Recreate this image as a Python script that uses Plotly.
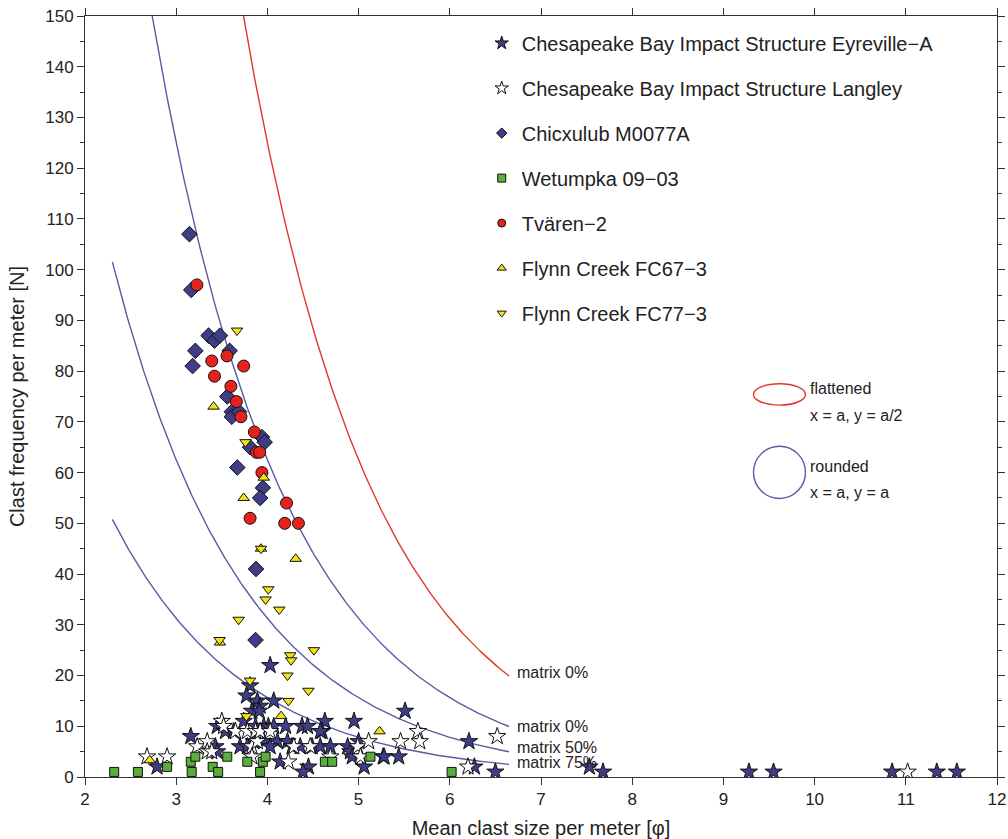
import numpy as np
import plotly.graph_objects as go

# ---------------- data ----------------
eyre_x = [4.03, 3.81, 3.77, 3.89, 4.07, 3.92, 3.83, 3.91, 5.51, 3.16, 4.63, 4.95,
          3.45, 3.74, 3.87, 3.96, 4.01, 4.07, 4.20, 4.38, 4.44, 4.60,
          3.54, 4.58, 3.63,
          3.85, 3.96, 4.11, 4.22, 5.00, 6.21,
          3.43, 3.70, 3.78, 4.03, 4.27, 4.36, 4.49, 4.58, 4.69, 4.88, 4.91,
          3.45, 4.93, 5.27, 5.44, 5.28, 4.14,
          2.79, 4.45, 5.06, 7.53, 6.27,
          4.39, 6.50, 7.68, 9.28, 9.55, 10.85, 11.34, 11.56]
eyre_y = [22, 18, 16, 15, 15, 14, 13, 13, 13, 8, 11, 11,
          10, 11, 10, 10, 10, 10, 10, 10, 10, 9,
          9, 9, 9,
          7, 7, 7, 7, 7, 7,
          6, 6, 6, 6, 6, 6, 6, 6, 6, 6, 5,
          5, 4, 4, 4, 4, 3,
          2, 2, 2, 2, 2,
          1, 1, 1, 1, 1, 1, 1, 1]

lang_x = [2.68, 2.90, 3.23, 3.34, 3.34, 3.39, 3.50, 3.52, 3.65, 3.78, 3.83, 3.87,
          3.89, 3.92, 4.03, 4.23, 4.29, 4.47, 3.83, 4.69, 4.99, 5.11, 5.02,
          5.65, 5.67, 5.46, 6.20, 6.52, 11.02]
lang_y = [4, 4, 6, 7, 5, 5, 11, 10, 9, 9, 6, 9,
          7, 9, 9, 3, 6, 6, 4, 4, 6, 7, 4,
          9, 7, 7, 2, 8, 1]

chic_x = [3.145, 3.165, 3.355, 3.42, 3.48, 3.21, 3.586, 3.18, 3.56, 3.61, 3.61, 3.69,
          3.94, 3.97, 3.81, 3.67, 3.95, 3.92, 3.875, 3.87]
chic_y = [107, 96, 87, 86, 87, 84, 84, 81, 75, 72, 71, 72,
          67, 66, 65, 61, 57, 55, 41, 27]

wet_x = [2.32, 2.58, 2.90, 3.17, 3.16, 3.21, 3.40, 3.46, 3.56, 3.78, 3.92, 3.95,
         3.98, 4.63, 4.71, 5.13, 6.02]
wet_y = [1, 1, 2, 1, 3, 4, 2, 1, 4, 3, 1, 3,
         4, 3, 3, 4, 1]

tva_x = [3.227, 3.557, 3.39, 3.74, 3.42, 3.60, 3.66, 3.71, 3.857, 3.88, 3.915, 3.94,
         4.21, 3.81, 4.19, 4.34]
tva_y = [97, 83, 82, 81, 79, 77, 74, 71, 68, 64, 64, 60,
         54, 51, 50, 50]

fc67_x = [3.41, 3.96, 3.74, 3.93, 4.31, 3.48, 4.15, 5.23, 2.71]
fc67_y = [73, 59, 55, 45, 43, 26.5, 12, 9, 3.3]

fc77_x = [3.667, 3.76, 3.93, 4.01, 3.98, 4.13, 3.685, 3.476, 4.51, 4.25, 4.26, 4.22,
          3.81, 4.45, 4.23, 3.77]
fc77_y = [88, 66, 45, 37, 35, 33, 31, 27, 25, 24, 23, 20,
          19, 17, 15, 12]

# model curves N = k / 2^phi
curve_k = {"red": 2000, "m0": 1000, "m50": 500, "m75": 250}
curve_labels = {"red": "matrix 0%", "m0": "matrix 0%", "m50": "matrix 50%", "m75": "matrix 75%"}
phi_min, phi_max = 2.3, 6.65

# ---------------- styling ----------------
FONT = "Liberation Sans, Arial, Helvetica, sans-serif"
NAVY = "#3e3d86"
BLUE_LINE = "#5a5aa6"
RED_LINE = "#e2372a"

fig = go.Figure()

phi = np.linspace(phi_min, phi_max, 300)
for key, k in curve_k.items():
    col = RED_LINE if key == "red" else BLUE_LINE
    fig.add_trace(go.Scatter(x=phi, y=k / 2 ** phi, mode="lines",
                             line=dict(color=col, width=1.4), showlegend=False,
                             hoverinfo="skip"))

label_shift = {"red": 3, "m0": 0, "m50": 4, "m75": 2}
for key, k in curve_k.items():
    fig.add_annotation(x=phi_max, y=k / 2 ** phi_max, text=curve_labels[key],
                       xanchor="left", yanchor="middle", xshift=6, yshift=label_shift[key],
                       showarrow=False, font=dict(family=FONT, size=16, color="#222"))

series = [
    ("Chesapeake Bay Impact Structure Eyreville\u2212A", eyre_x, eyre_y, "star", NAVY, 13),
    ("Chesapeake Bay Impact Structure Langley", lang_x, lang_y, "star", "white", 13),
    ("Chicxulub M0077A", chic_x, chic_y, "diamond", NAVY, 12),
    ("Wetumpka 09\u221203", wet_x, wet_y, "square", "#5aae3c", 9),
    ("Tvären\u22122", tva_x, tva_y, "circle", "#e5231c", 12),
    ("Flynn Creek FC67\u22123", fc67_x, fc67_y, "triangle-up", "#f1e414", 10),
    ("Flynn Creek FC77\u22123", fc77_x, fc77_y, "triangle-down", "#f1e414", 10),
]
for i, (name, xs, ys, sym, col, sz) in enumerate(series):
    fig.add_trace(go.Scatter(x=xs, y=ys, mode="markers", name=name, showlegend=False,
                             marker=dict(symbol=sym, color=col, size=sz,
                                         line=dict(color="#111", width=1))))
# legend entries with small keys (as in the reference)
for i, (name, xs, ys, sym, col, sz) in enumerate(series):
    fig.add_trace(go.Scatter(x=[None], y=[None], mode="markers", name=name,
                             legendgroup=f"g{i}",
                             marker=dict(symbol=sym, color=col, size=8 if sym != "star" else 10,
                                         line=dict(color="#111", width=1))))

# legend keys for particle shapes
fig.add_shape(type="circle", xref="x", yref="y", x0=9.33, x1=9.90, y0=73.3, y1=77.5,
              line=dict(color=RED_LINE, width=1.4))
fig.add_shape(type="circle", xref="x", yref="y", x0=9.33, x1=9.90, y0=54.9, y1=65.2,
              line=dict(color=BLUE_LINE, width=1.4))
for txt, yy in [("flattened", 76.5), ("x = a, y = a/2", 71.2), ("rounded", 61.2), ("x = a, y = a", 56.0)]:
    fig.add_annotation(x=9.93, y=yy, text=txt, xanchor="left", yanchor="middle",
                       showarrow=False, font=dict(family=FONT, size=16, color="#222"))

axis_common = dict(showline=True, linecolor="#333", linewidth=1, mirror="allticks",
                   ticks="outside", tickcolor="#333", ticklen=7, tickwidth=1,
                   showgrid=False, zeroline=False, automargin=False,
                   tickfont=dict(family=FONT, size=17, color="#222"))

fig.update_xaxes(range=[2, 12], dtick=1, tick0=0,
                 title=dict(text="Mean clast size per meter [φ]", font=dict(family=FONT, size=20, color="#222")),
                 **axis_common)
fig.update_yaxes(range=[0, 150], dtick=10, tick0=0,
                 minor=dict(dtick=5, ticks="outside", ticklen=4, tickcolor="#333"),
                 title=dict(text="Clast frequency per meter [N]", font=dict(family=FONT, size=20, color="#222")),
                 **axis_common)

fig.update_layout(
    width=1008, height=839,
    margin=dict(l=85, r=11, t=16, b=62),
    paper_bgcolor="white", plot_bgcolor="white",
    font=dict(family=FONT, color="#222"),
    legend=dict(x=0.435, y=0.99, xanchor="left", yanchor="top",
                font=dict(family=FONT, size=20, color="#222"),
                tracegroupgap=16, bgcolor="rgba(0,0,0,0)", itemwidth=30),
    showlegend=True,
)

fig.write_html("out.html", config={"displayModeBar": False},
               post_script="document.body.style.margin='0';document.body.style.overflow='hidden';")
